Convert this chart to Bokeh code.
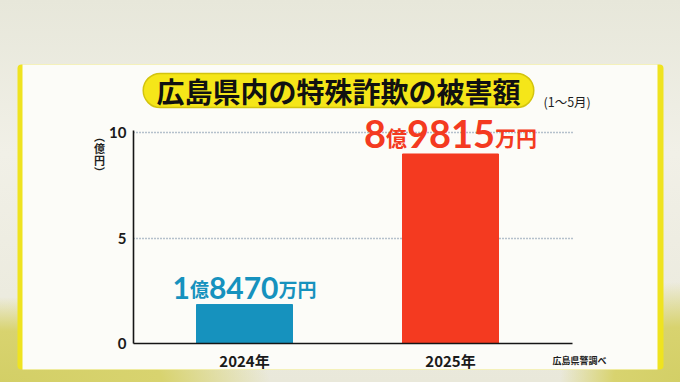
from bokeh.plotting import figure
from bokeh.models import (ColumnDataSource, Range1d, FixedTicker, LabelSet, Label,
                          BoxAnnotation)
from bokeh.layouts import column
from bokeh.embed import file_html
from bokeh.resources import INLINE

# ---------------- data ----------------
categories = ["2024年", "2025年"]
values = [1.847, 8.9815]          # 億円 (1億8470万円, 8億9815万円)
bar_colors = ["#1692be", "#f43a20"]
y_ticks = [0, 5, 10]
grid_ticks = [5, 10]
title_text = "広島県内の特殊詐欺の被害額"
period_text = "(1～5月)"
unit_text = "︵\n億\n円\n︶"
source_text = "広島県警調べ"

# ---------------- figure (frame = whole canvas) ----------------
W, H = 680, 382
xs = list(range(len(categories)))
X_BOUNDS = (-0.539, 1.592)
Y_BOUNDS = (0, 10.1)

p = figure(width=W, height=H, output_backend="svg", toolbar_location=None,
           x_range=Range1d(-1.1845, 2.1165), y_range=Range1d(-1.848, 16.256),
           min_border=0)
p.min_border_left = p.min_border_right = p.min_border_top = p.min_border_bottom = 0
p.border_fill_alpha = 0
p.background_fill_alpha = 0
p.outline_line_color = None

# panel (yellow edges + white card), page coords -> screen units from bottom-left
p.add_layout(BoxAnnotation(left=17, right=663, top=H - 64, bottom=H - 369,
                           left_units="screen", right_units="screen",
                           top_units="screen", bottom_units="screen",
                           fill_color="#efe320", fill_alpha=1, line_color=None,
                           border_radius=4, level="image"))
p.add_layout(BoxAnnotation(left=22, right=657, top=H - 64, bottom=H - 369,
                           left_units="screen", right_units="screen",
                           top_units="screen", bottom_units="screen",
                           fill_color="#fcfcf8", fill_alpha=1, line_color=None,
                           level="image"))

src = ColumnDataSource(dict(x=xs, top=values, color=bar_colors))
p.vbar(x="x", top="top", width=0.466, color="color", source=src)

# axes (drawn inside the frame at fixed positions)
p.xaxis.fixed_location = 0
p.xaxis.bounds = X_BOUNDS
p.yaxis.fixed_location = X_BOUNDS[0]
p.yaxis.bounds = Y_BOUNDS
p.xaxis.ticker = FixedTicker(ticks=xs)
p.xaxis.major_label_overrides = {i: c for i, c in enumerate(categories)}
p.yaxis.ticker = FixedTicker(ticks=y_ticks)
for ax in (p.xaxis, p.yaxis):
    ax.axis_line_color = "#151515"
    ax.axis_line_width = 1.6
    ax.major_tick_line_color = None
    ax.minor_tick_line_color = None
    ax.major_tick_out = 0
    ax.major_tick_in = 0
    ax.minor_tick_out = 0
    ax.major_label_text_color = "#1a1a1a"
    ax.major_label_text_font_style = "bold"
p.xaxis.major_label_text_font = "Noto Sans CJK JP"
p.xaxis.major_label_text_font_size = "15px"
p.xaxis.major_label_standoff = 6
p.yaxis.major_label_text_font = "Lato"
p.yaxis.major_label_text_font_size = "15px"
p.yaxis.major_label_standoff = 7

p.xgrid.grid_line_color = None
ygrid = p.ygrid[0]
if "cross_bounds" in ygrid.properties():
    ygrid.ticker = FixedTicker(ticks=grid_ticks)
    ygrid.cross_bounds = X_BOUNDS
    ygrid.grid_line_color = "#6f86a0"
    ygrid.grid_line_dash = "1 2"
    ygrid.grid_line_width = 1.3
else:
    ygrid.grid_line_color = None
    p.segment(x0=[X_BOUNDS[0]] * len(grid_ticks), x1=[X_BOUNDS[1]] * len(grid_ticks),
              y0=grid_ticks, y1=grid_ticks, line_color="#6f86a0",
              line_dash="1 2", line_width=1.3, level="underlay")

# ---------------- value labels (mixed sizes) ----------------
big_sizes = [30, 38]
small_sizes = [19, 21]
seg = dict(x=[], y=[], text=[], xoff=[], yoff=[], size=[], color=[], font=[])
for i, v in enumerate(values):
    oku = int(v)
    man = int(round((v - oku) * 10000))
    parts = [(str(oku), True), ("億", False), (str(man), True), ("万円", False)]
    b, s = big_sizes[i], small_sizes[i]
    widths = [len(t) * (0.58 * b if big else 1.0 * s) for t, big in parts]
    total = sum(widths)
    cur = -total / 2
    for (t, big), w in zip(parts, widths):
        seg["x"].append(xs[i])
        seg["y"].append(v)
        seg["text"].append(t)
        seg["xoff"].append(cur)
        seg["yoff"].append(6 if big else 8)
        seg["size"].append(f"{b if big else s}px")
        seg["color"].append(bar_colors[i])
        seg["font"].append("Lato" if big else "Noto Sans CJK JP")
        cur += w
seg_src = ColumnDataSource(seg)
p.add_layout(LabelSet(x="x", y="y", text="text", x_offset="xoff", y_offset="yoff",
                      text_font_size="size", text_color="color", text_font="font",
                      text_font_style="bold", text_align="left",
                      text_baseline="alphabetic", source=seg_src))

# ---------------- title pill & texts ----------------
p.add_layout(Label(x=338, y=H - 90, x_units="screen", y_units="screen", text=" ",
                   text_font_size="2px", text_align="center", text_baseline="middle",
                   background_fill_color="#f5e619", border_line_color="#d3c40f",
                   border_line_width=1.5, border_radius=17, padding=(195, 16)))
p.add_layout(Label(x=338, y=H - 90, x_units="screen", y_units="screen", text=title_text,
                   text_font="Noto Sans CJK JP", text_font_style="bold",
                   text_font_size="28px", text_color="#111111",
                   text_align="center", text_baseline="middle"))
p.add_layout(Label(x=543, y=H - 101, x_units="screen", y_units="screen", text=period_text,
                   text_font="Noto Sans CJK JP", text_font_size="12.5px",
                   text_color="#1e1e1e", text_align="left", text_baseline="middle"))
p.add_layout(Label(x=99, y=H - 127, x_units="screen", y_units="screen", text=unit_text,
                   text_font="Noto Sans CJK JP", text_font_style="bold",
                   text_font_size="11px", text_line_height=0.75, text_color="#1e1e1e",
                   text_align="center", text_baseline="top"))
p.add_layout(Label(x=552, y=H - 360, x_units="screen", y_units="screen", text=source_text,
                   text_font="Noto Sans CJK JP", text_font_style="bold",
                   text_font_size="9px", text_color="#1e1e1e",
                   text_align="left", text_baseline="middle"))

bg = ("radial-gradient(ellipse 270px 85px at 0% 100%, #d3cf66 0%, #d8d36f 60%, rgba(216,211,112,0) 100%), "
      "radial-gradient(ellipse 120px 100px at 100% 100%, #d3cf66 0%, #d8d36f 55%, rgba(216,211,112,0) 100%), "
      "linear-gradient(180deg, #e7e7da 0%, #f1f0e7 40%, #e9e8da 100%)")
root = column(p, width=680, height=382, styles={"background": bg})

open("out.html", "w").write(file_html(root, INLINE))
